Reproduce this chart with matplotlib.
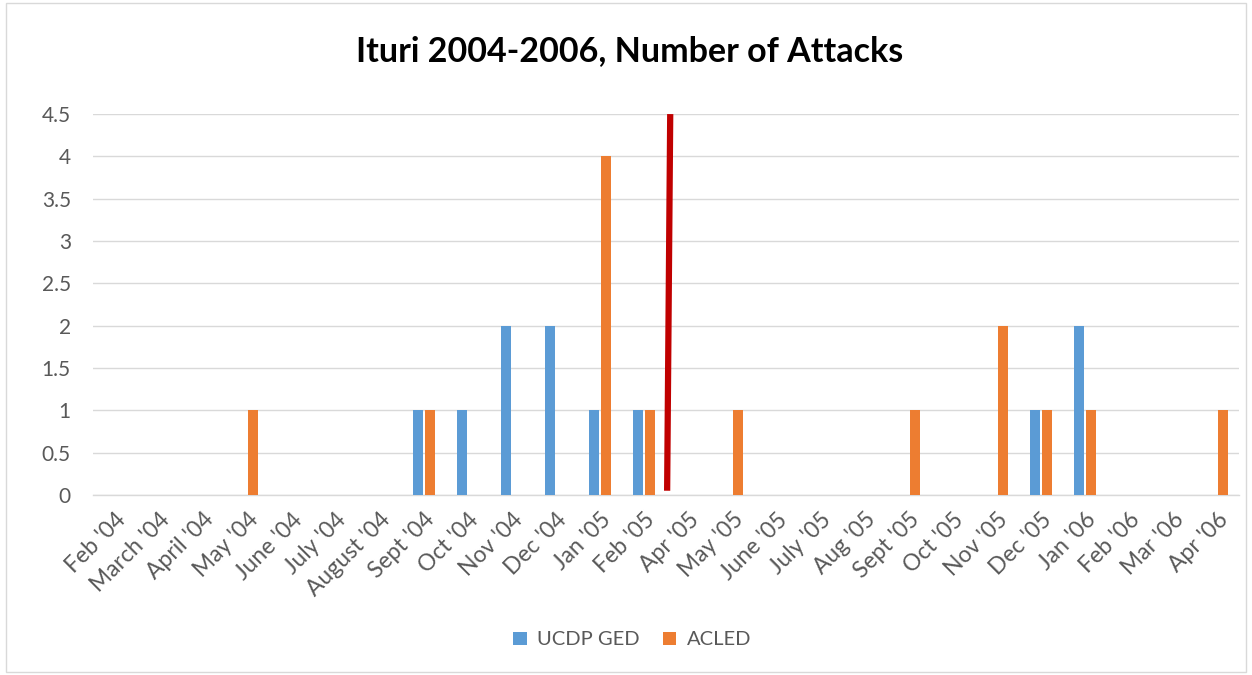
import numpy as np
import matplotlib.pyplot as plt
from matplotlib.patches import Rectangle

plt.rcParams['font.family'] = ['Lato', 'DejaVu Sans']

months = ["Feb '04", "March '04", "April '04", "May '04", "June '04", "July '04",
          "August '04", "Sept '04", "Oct '04", "Nov '04", "Dec '04", "Jan '05",
          "Feb '05", "Apr '05", "May '05", "June '05", "July '05", "Aug '05",
          "Sept '05", "Oct '05", "Nov '05", "Dec '05", "Jan '06", "Feb '06",
          "Mar '06", "Apr '06"]
ucdp_ged = [0, 0, 0, 0, 0, 0, 0, 1, 1, 2, 2, 1, 1, 0, 0, 0, 0, 0, 0, 0, 0, 1, 2, 0, 0, 0]
acled = [0, 0, 0, 1, 0, 0, 0, 1, 0, 0, 0, 4, 1, 0, 1, 0, 0, 0, 1, 0, 2, 1, 1, 0, 0, 1]

# marker line between Feb '05 and Apr '05
marker_x = [12.52, 12.59]
marker_y = [0.05, 4.5]

fig = plt.figure(figsize=(12.52, 6.75), dpi=100)
fig.patches.append(Rectangle((0.005, 0.005), 0.99, 0.99, transform=fig.transFigure,
                             fill=False, edgecolor='#d9d9d9', linewidth=1))
ax = fig.add_axes([0.0743, 0.2667, 0.9157, 0.5643])

x = np.arange(len(months))
w = 0.23
ax.bar(x - 0.135, ucdp_ged, w, color='#5b9bd5', label='UCDP GED', zorder=3)
ax.bar(x + 0.135, acled, w, color='#ed7d31', label='ACLED', zorder=3)
ax.plot(marker_x, marker_y, color='#c00000', linewidth=4.5, solid_capstyle='butt', zorder=4)

ax.set_xlim(-0.5, len(months) - 0.5)
ax.set_ylim(0, 4.5)
ax.set_yticks(np.arange(0, 4.51, 0.5))
ax.set_yticklabels(['0', '0.5', '1', '1.5', '2', '2.5', '3', '3.5', '4', '4.5'])
ax.set_xticks(x)
ax.set_xticklabels(months, rotation=45, ha='right', va='top', rotation_mode='anchor')
ax.tick_params(axis='y', length=0, labelsize=15, colors='#595959', pad=16)
ax.tick_params(axis='x', length=0, labelsize=16.5, colors='#595959', pad=10)
ax.grid(axis='y', color='#d9d9d9', linewidth=1, zorder=0)
for s in ['top', 'right', 'left']:
    ax.spines[s].set_visible(False)
ax.spines['bottom'].set_color('#d9d9d9')
ax.spines['bottom'].set_linewidth(1)

fig.text(0.503, 0.925, 'Ituri 2004-2006, Number of Attacks', fontsize=24.5,
         fontweight='bold', color='black', ha='center', va='center')

fig.legend(loc='center', bbox_to_anchor=(0.505, 0.052), ncol=2, frameon=False,
           fontsize=14.5, handlelength=0.65, handleheight=0.65, columnspacing=1.2,
           handletextpad=0.5, labelcolor='#595959')

fig.savefig('out.png', dpi=100)
